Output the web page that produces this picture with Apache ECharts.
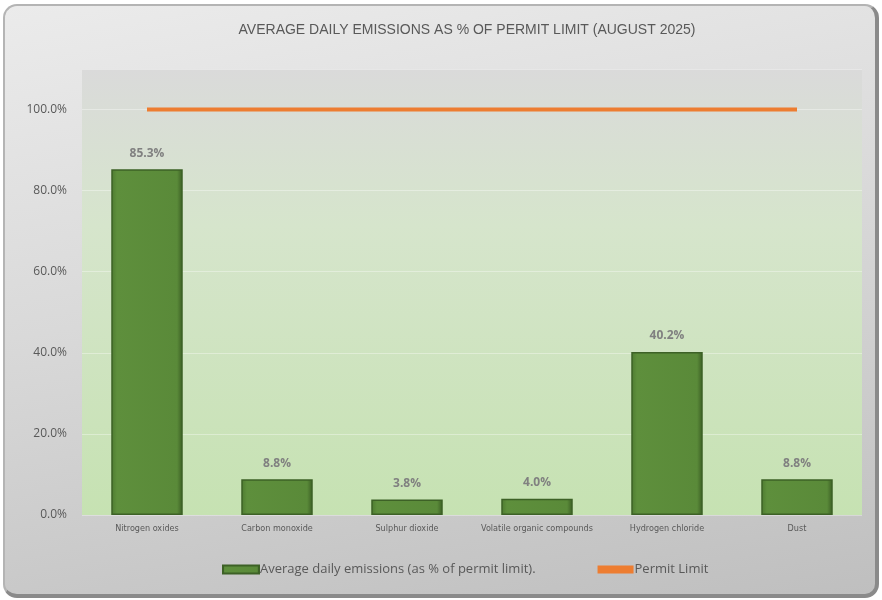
<!DOCTYPE html>
<html lang="en">
<head>
    <meta charset="UTF-8">
    <title>Emissions</title>
    <script src="https://cdn.jsdelivr.net/npm/echarts@6/dist/echarts.min.js"></script>
    <style>
        html, body { margin: 0; padding: 0; background: #ffffff; }
        #frame {
            position: absolute; left: 3px; top: 4px; width: 870px; height: 588px;
            border-radius: 14px;
            border: 2px solid #b4b4b4;
            border-right: 4px solid #8a8a8a;
            border-bottom: 4px solid #8a8a8a;
            background: linear-gradient(170deg, #ebebeb 0%, #d9d9d9 45%, #bfbfbf 100%);
        }
        #chart_swarp { position: absolute; left: 0; top: 0; width: 882px; height: 600px; }
    </style>
</head>
<body>
    <div id="frame"></div>
    <div id="chart_swarp"></div>
    <script type="text/javascript">
        // categories
        var categories = ["Nitrogen oxides", "Carbon monoxide", "Sulphur dioxide",
            "Volatile organic compounds", "Hydrogen chloride", "Dust"];
        // average daily emissions, % of permit limit
        var emissions = [85.3, 8.8, 3.8, 4.0, 40.2, 8.8];
        // permit limit
        var permitLimit = [100, 100, 100, 100, 100, 100];
        var yTicks = [0, 20, 40, 60, 80, 100];

        var chart_1 = echarts.init(document.getElementById("chart_swarp"));
        var option_1 = {
            backgroundColor: 'transparent',
            title: {
                text: "AVERAGE DAILY EMISSIONS AS % OF PERMIT LIMIT (AUGUST 2025)",
                left: 462,
                textAlign: 'center',
                top: 18,
                textStyle: {
                    fontFamily: "'Liberation Sans Narrow', 'Liberation Sans', Arial",
                    fontWeight: 'normal',
                    fontSize: 14,
                    color: '#595959'
                }
            },
            grid: {
                left: 82, right: 20, top: 69, bottom: 85,
                show: true,
                borderWidth: 0,
                backgroundColor: new echarts.graphic.LinearGradient(0, 0, 0, 1, [
                    { offset: 0, color: '#dadada' },
                    { offset: 0.35, color: '#d6e5cc' },
                    { offset: 1, color: '#c6e2b2' }
                ])
            },
            legend: {
                bottom: 19,
                left: 217,
                itemGap: 62,
                itemWidth: 36,
                itemHeight: 8,
                textStyle: {
                    fontFamily: "'Open Sans', 'Noto Sans', sans-serif",
                    fontSize: 13,
                    color: '#595959',
                    padding: [0, 0, 0, -4]
                },
                data: [
                    { name: "Average daily emissions (as % of permit limit).", icon: 'rect' },
                    { name: "Permit Limit", icon: 'rect', itemStyle: { color: '#ED7D31' } }
                ]
            },
            xAxis: {
                type: 'category',
                data: categories,
                axisLine: { show: false },
                axisTick: { show: false },
                axisLabel: {
                    interval: 0,
                    fontFamily: "'DejaVu Sans Condensed', 'DejaVu Sans', sans-serif",
                    fontSize: 9,
                    color: '#595959',
                    margin: 9
                }
            },
            yAxis: {
                type: 'value',
                min: 0,
                max: 110,
                interval: 20,
                axisLabel: {
                    showMaxLabel: false,
                    formatter: function (v) { return yTicks.indexOf(v) >= 0 ? v.toFixed(1) + '%' : ''; },
                    fontFamily: "'Open Sans', 'Noto Sans', sans-serif",
                    fontSize: 12,
                    color: '#595959',
                    margin: 15
                },
                splitLine: { lineStyle: { color: 'rgba(255,255,255,0.35)', width: 1 } },
                axisLine: { show: false },
                axisTick: { show: false }
            },
            series: [
                {
                    name: "Average daily emissions (as % of permit limit).",
                    type: 'bar',
                    data: emissions,
                    barWidth: '55%',
                    itemStyle: {
                        color: new echarts.graphic.LinearGradient(0, 0, 1, 0, [
                            { offset: 0, color: '#4d7a30' },
                            { offset: 0.08, color: '#5e8f3c' },
                            { offset: 0.92, color: '#5a8a39' },
                            { offset: 1, color: '#3b5e24' }
                        ]),
                        borderColor: '#3d6126',
                        borderWidth: 1.5
                    },
                    label: {
                        show: true,
                        position: 'top',
                        distance: 10,
                        formatter: function (p) { return p.value.toFixed(1) + '%'; },
                        fontFamily: "'Open Sans', 'Noto Sans', sans-serif",
                        fontWeight: 'bold',
                        fontSize: 12,
                        color: '#808080'
                    }
                },
                {
                    name: "Permit Limit",
                    type: 'line',
                    data: permitLimit,
                    symbol: 'none',
                    lineStyle: { color: '#ED7D31', width: 4 },
                    itemStyle: { color: '#ED7D31' }
                }
            ]
        };
        chart_1.setOption(option_1);
    </script>
</body>
</html>
